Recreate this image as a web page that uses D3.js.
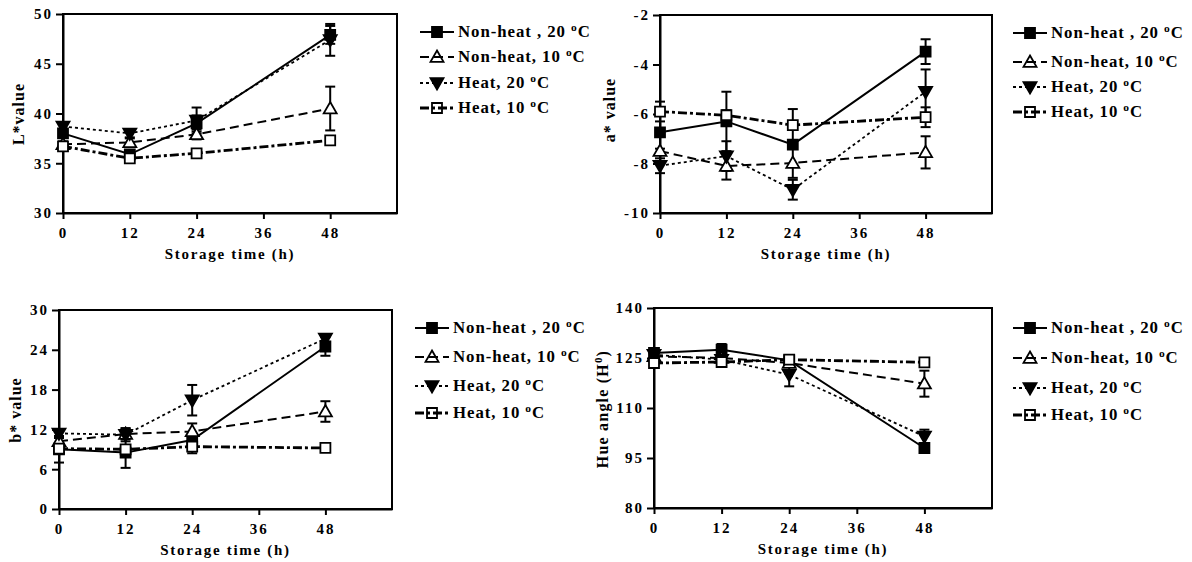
<!DOCTYPE html>
<html>
<head>
<meta charset="utf-8">
<script src="https://cdn.jsdelivr.net/npm/d3@7"></script>
<style>
  html, body { margin: 0; padding: 0; background: #fff; }
  svg { display: block; }
  text { font-family: "Liberation Serif", "Times New Roman", serif; font-weight: bold; fill: #000; }
</style>
</head>
<body>
<svg id="chart" width="1192" height="562"></svg>
<script>
// ---------------- DATA ----------------
const hours = [0, 12, 24, 48];
const xTicks = [0, 12, 24, 36, 48];
const seriesLabels = ["Non-heat , 20 ", "Non-heat, 10 ", "Heat, 20 ", "Heat, 10 "];

// L* value
const L_ticks = [30, 35, 40, 45, 50];
const L_nonheat20 = [38.0, 35.9, 39.0, 47.9];
const L_nonheat20_err = [0.4, 0.3, 0.8, 0.9];
const L_nonheat10 = [36.9, 37.1, 37.9, 40.5];
const L_nonheat10_err = [0.3, 0.4, 0.5, 2.2];
const L_heat20 = [38.7, 38.0, 39.3, 47.4];
const L_heat20_err = [0.3, 0.4, 1.3, 1.6];
const L_heat10 = [36.7, 35.5, 36.0, 37.3];
const L_heat10_err = [0.3, 0.3, 0.3, 0.3];

// a* value
const A_ticks = [-10, -8, -6, -4, -2];
const A_nonheat20 = [-6.74, -6.3, -7.24, -3.48];
const A_nonheat20_err = [0.1, 1.2, 0.15, 0.5];
const A_nonheat10 = [-7.5, -8.1, -7.98, -7.55];
const A_nonheat10_err = [0.1, 0.55, 0.6, 0.65];
const A_heat20 = [-8.09, -7.7, -9.06, -5.1];
const A_heat20_err = [0.3, 0.6, 0.4, 0.9];
const A_heat10 = [-5.9, -6.05, -6.45, -6.13];
const A_heat10_err = [0.4, 0.2, 0.65, 0.4];

// b* value
const B_ticks = [0, 6, 12, 18, 24, 30];
const B_nonheat20 = [9.0, 8.5, 10.4, 24.5];
const B_nonheat20_err = [2.0, 2.3, 0.4, 1.4];
const B_nonheat10 = [10.2, 11.3, 11.7, 14.7];
const B_nonheat10_err = [0.5, 0.8, 1.2, 1.55];
const B_heat20 = [11.4, 11.2, 16.4, 25.7];
const B_heat20_err = [0.4, 1.0, 2.3, 0.5];
const B_heat10 = [9.1, 9.0, 9.4, 9.2];
const B_heat10_err = [0.3, 0.5, 1.0, 0.3];

// Hue angle
const H_ticks = [80, 95, 110, 125, 140];
const H_nonheat20 = [126.5, 127.5, 124.3, 98.0];
const H_nonheat20_err = [1.5, 1.7, 0.8, 1.0];
const H_nonheat10 = [125.5, 125.0, 123.5, 117.3];
const H_nonheat10_err = [0.8, 0.5, 0.8, 3.9];
const H_heat20 = [126.0, 124.5, 120.0, 101.5];
const H_heat20_err = [0.8, 0.6, 3.5, 2.0];
const H_heat10 = [123.5, 123.8, 124.5, 123.7];
const H_heat10_err = [0.3, 0.5, 0.5, 0.3];

// ---------------- STYLES ----------------
const seriesStyle = [
  { dash: null,          width: 2.0, marker: "square",   fill: "#000" },
  { dash: "9,5",         width: 2.0, marker: "triangle", fill: "#fff" },
  { dash: "3,3",         width: 1.8, marker: "tridown",  fill: "#000" },
  { dash: "9,3,3,3",     width: 2.8, marker: "square",   fill: "#fff" }
];

const panels = [
  { left: 63,  right: 397, top: 14,  bottom: 213, domain: [30, 50],  ticks: L_ticks,
    label: ["L*value"], labelX: 24, labelY: 114,
    values: [L_nonheat20, L_nonheat10, L_heat20, L_heat10],
    errs: [L_nonheat20_err, L_nonheat10_err, L_heat20_err, L_heat10_err],
    legX: 420, legRows: [32, 57, 83, 108] },
  { left: 660, right: 992, top: 15,  bottom: 213, domain: [-10, -2], ticks: A_ticks,
    label: ["a* value"], labelX: 615, labelY: 110,
    values: [A_nonheat20, A_nonheat10, A_heat20, A_heat10],
    errs: [A_nonheat20_err, A_nonheat10_err, A_heat20_err, A_heat10_err],
    legX: 1013, legRows: [33, 62, 87, 112] },
  { left: 59,  right: 392, top: 310, bottom: 509, domain: [0, 30],   ticks: B_ticks,
    label: ["b* value"], labelX: 21, labelY: 410,
    values: [B_nonheat20, B_nonheat10, B_heat20, B_heat10],
    errs: [B_nonheat20_err, B_nonheat10_err, B_heat20_err, B_heat10_err],
    legX: 415, legRows: [328, 357, 386, 413] },
  { left: 654, right: 992, top: 308, bottom: 508, domain: [80, 140], ticks: H_ticks,
    label: ["Hue angle (H", "0", ")"], labelX: 608, labelY: 409,
    values: [H_nonheat20, H_nonheat10, H_heat20, H_heat10],
    errs: [H_nonheat20_err, H_nonheat10_err, H_heat20_err, H_heat10_err],
    legX: 1013, legRows: [328, 358, 388, 415] }
];

const svg = d3.select("#chart");

function markerPath(type) {
  if (type === "square") return d3.symbol(d3.symbolSquare, 10 * 10)();
  const w = 6.5, up = 6.5, dn = 4.8;
  if (type === "triangle") return `M0,${-up}L${w},${dn}L${-w},${dn}Z`;
  return `M0,${up}L${w},${-dn}L${-w},${-dn}Z`;
}

function drawMarker(g, type, fill, x, y) {
  g.append("path")
    .attr("d", markerPath(type))
    .attr("transform", `translate(${x},${y})`)
    .attr("fill", fill)
    .attr("stroke", "#000")
    .attr("stroke-width", 1.8);
}

panels.forEach(p => {
  const x = d3.scaleLinear().domain([0, 60]).range([p.left, p.right]);
  const y = d3.scaleLinear().domain(p.domain).range([p.bottom, p.top]);
  const g = svg.append("g");

  // frame
  g.append("rect")
    .attr("x", p.left).attr("y", p.top)
    .attr("width", p.right - p.left).attr("height", p.bottom - p.top)
    .attr("fill", "none").attr("stroke", "#000").attr("stroke-width", 2);

  // axes
  const xa = g.append("g").attr("transform", `translate(0,${p.bottom})`)
    .call(d3.axisBottom(x).tickValues(xTicks).tickFormat(d => String(d))
      .tickSize(6).tickSizeOuter(0).tickPadding(5));
  const ya = g.append("g").attr("transform", `translate(${p.left},0)`)
    .call(d3.axisLeft(y).tickValues(p.ticks).tickFormat(d => String(d))
      .tickSize(7).tickSizeOuter(0).tickPadding(3));
  [xa, ya].forEach(a => {
    a.select(".domain").attr("stroke", "#000").attr("stroke-width", 2);
    a.selectAll(".tick line").attr("stroke", "#000").attr("stroke-width", 2);
    a.selectAll(".tick text")
      .style("font-family", '"Liberation Serif", serif')
      .style("font-weight", "bold")
      .style("font-size", "15px")
      .style("letter-spacing", "2px")
      .attr("fill", "#000");
  });
  xa.selectAll(".tick text").attr("dy", "0.9em");

  // x axis title
  g.append("text")
    .attr("x", (p.left + p.right) / 2)
    .attr("y", p.bottom + 46)
    .attr("text-anchor", "middle")
    .style("font-size", "15px")
    .style("letter-spacing", "1.7px")
    .text("Storage time (h)");

  // y axis title
  const yt = g.append("text")
    .attr("transform", `translate(${p.labelX},${p.labelY}) rotate(-90)`)
    .attr("text-anchor", "middle")
    .style("font-size", "16px")
    .style("letter-spacing", p.label.length > 1 ? "1.2px" : "1px");
  yt.append("tspan").text(p.label[0]);
  if (p.label.length > 1) {
    yt.append("tspan").attr("dy", -6).style("font-size", "11px").text(p.label[1]);
    yt.append("tspan").attr("dy", 6).text(p.label[2]);
  }

  // error bars
  p.values.forEach((vals, si) => {
    vals.forEach((v, i) => {
      const e = p.errs[si][i];
      const cx = x(hours[i]);
      const y1 = y(v - e), y2 = y(v + e);
      g.append("line").attr("x1", cx).attr("x2", cx).attr("y1", y1).attr("y2", y2)
        .attr("stroke", "#000").attr("stroke-width", 2);
      [y1, y2].forEach(yy => g.append("line")
        .attr("x1", cx - 5).attr("x2", cx + 5).attr("y1", yy).attr("y2", yy)
        .attr("stroke", "#000").attr("stroke-width", 2));
    });
  });

  // lines
  const line = d3.line().x((d, i) => x(hours[i])).y(d => y(d));
  p.values.forEach((vals, si) => {
    const st = seriesStyle[si];
    g.append("path").datum(vals)
      .attr("d", line)
      .attr("fill", "none")
      .attr("stroke", "#000")
      .attr("stroke-width", st.width)
      .attr("stroke-dasharray", st.dash);
  });

  // markers
  p.values.forEach((vals, si) => {
    const st = seriesStyle[si];
    vals.forEach((v, i) => drawMarker(g, st.marker, st.fill, x(hours[i]), y(v)));
  });

  // legend
  seriesLabels.forEach((lab, si) => {
    const st = seriesStyle[si];
    const ly = p.legRows[si];
    g.append("line")
      .attr("x1", p.legX).attr("x2", p.legX + 34).attr("y1", ly).attr("y2", ly)
      .attr("stroke", "#000").attr("stroke-width", st.width)
      .attr("stroke-dasharray", st.dash);
    drawMarker(g, st.marker, st.fill === "#fff" ? "none" : st.fill, p.legX + 17, ly);
    const t = g.append("text")
      .attr("transform", `translate(${p.legX + 38},${ly + 5}) scale(1.05,1)`)
      .style("font-size", "16px")
      .style("letter-spacing", "0.9px");
    t.append("tspan").text(lab);
    t.append("tspan").attr("dy", -6).style("font-size", "11px").text("o");
    t.append("tspan").attr("dy", 6).text("C");
  });
});
</script>
</body>
</html>
